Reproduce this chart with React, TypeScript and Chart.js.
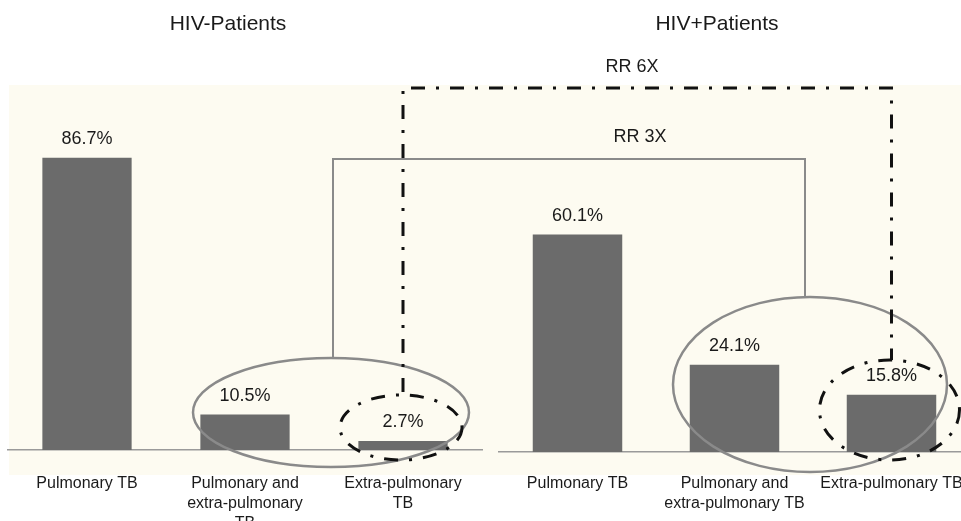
import React, { useEffect, useRef } from "react";
import { Chart, registerables } from "chart.js";

Chart.register(...registerables);

// ---- data ----
const groupTitles = ["HIV-Patients", "HIV+Patients"];
const hivNegCategories: (string | string[])[] = [
  "Pulmonary TB",
  ["Pulmonary and", "extra-pulmonary", "TB"],
  ["Extra-pulmonary", "TB"],
];
const hivNegValues = [86.7, 10.5, 2.7];
const hivPosCategories: (string | string[])[] = [
  "Pulmonary TB",
  ["Pulmonary and", "extra-pulmonary TB"],
  "Extra-pulmonary TB",
];
const hivPosValues = [60.1, 24.1, 15.8];
const rrLabels = ["RR 3X", "RR 6X"];
const yMax = 100;

// ---- style ----
const W = 990;
const H = 521;
const FONT = '"Liberation Sans", Arial, Helvetica, sans-serif';
const BAR = "#6b6b6b";
const CREAM = "#fdfbf1";
const TEXT = "#1a1a1a";

const valueLabelPlugin = {
  id: "valueLabels",
  afterDatasetsDraw(chart: any) {
    const ctx = chart.ctx;
    const meta = chart.getDatasetMeta(0);
    const data = chart.data.datasets[0].data;
    ctx.save();
    ctx.font = `18px ${FONT}`;
    ctx.fillStyle = TEXT;
    ctx.textAlign = "center";
    ctx.textBaseline = "middle";
    meta.data.forEach((bar: any, i: number) => {
      ctx.fillText(`${data[i]}%`, bar.x, bar.y - 18.5);
    });
    ctx.restore();
  },
};

const backgroundPlugin = {
  id: "creamBg",
  beforeDraw(chart: any) {
    const ctx = chart.ctx;
    ctx.save();
    ctx.fillStyle = CREAM;
    ctx.fillRect(9, 85, W - 9, 390);
    ctx.restore();
  },
};

function makeOverlay(getLeft: () => any) {
  return {
    id: "overlay",
    afterDraw(chart: any) {
      const left = getLeft();
      if (!left) return;
      const lx = (i: number) => left.scales.x.getPixelForValue(i);
      const rx = (i: number) => chart.scales.x.getPixelForValue(i);
      const ctx = chart.ctx;
      ctx.save();

      // titles
      ctx.fillStyle = TEXT;
      ctx.textAlign = "center";
      ctx.textBaseline = "middle";
      ctx.font = `21px ${FONT}`;
      ctx.fillText(groupTitles[0], 228, 24);
      ctx.fillText(groupTitles[1], 717, 24);
      ctx.font = `18px ${FONT}`;
      ctx.fillText(rrLabels[1], 632, 67);
      ctx.fillText(rrLabels[0], 640, 137);

      // gray ellipses + RR 3X connector
      const lEx = (lx(1) + lx(2)) / 2 + 7;
      const rEx = (rx(1) + rx(2)) / 2 - 3;
      ctx.strokeStyle = "#8a8a8a";
      ctx.lineWidth = 2.5;
      ctx.setLineDash([]);
      ctx.beginPath();
      ctx.ellipse(lEx, 412.5, 138, 54.5, 0, 0, Math.PI * 2);
      ctx.stroke();
      ctx.beginPath();
      ctx.ellipse(rEx, 384.5, 137, 87.5, 0, 0, Math.PI * 2);
      ctx.stroke();
      ctx.lineWidth = 2;
      ctx.beginPath();
      ctx.moveTo(lEx + 2, 358);
      ctx.lineTo(lEx + 2, 159);
      ctx.lineTo(rEx - 5, 159);
      ctx.lineTo(rEx - 5, 297);
      ctx.stroke();

      // black dash-dot ellipses + RR 6X connector
      ctx.strokeStyle = "#111";
      ctx.lineWidth = 3;
      ctx.setLineDash([14, 11, 3, 11]);
      ctx.beginPath();
      ctx.ellipse(lx(2) - 2, 427.5, 61, 32.5, 0, 0, Math.PI * 2);
      ctx.stroke();
      ctx.beginPath();
      ctx.ellipse(rx(2) - 2, 410, 70, 50, 0, 0, Math.PI * 2);
      ctx.stroke();
      ctx.beginPath();
      ctx.moveTo(lx(2), 392);
      ctx.lineTo(lx(2), 88);
      ctx.lineTo(rx(2), 88);
      ctx.lineTo(rx(2), 360);
      ctx.stroke();

      ctx.restore();
    },
  };
}

function makeOptions(
  pad: { left: number; right: number; top: number },
  axisHeight: number,
  tickPad: number
): any {
  return {
    responsive: false,
    animation: false,
    devicePixelRatio: 1,
    layout: { padding: { left: pad.left, right: pad.right, top: pad.top, bottom: 0 } },
    plugins: {
      legend: { display: false },
      tooltip: { enabled: false },
      title: { display: false },
    },
    scales: {
      x: {
        grid: { display: false, drawTicks: false },
        border: { display: true, color: "#9a9a9a", width: 1.5 },
        ticks: {
          color: TEXT,
          font: { family: FONT, size: 16, lineHeight: 1.25 },
          padding: tickPad,
          maxRotation: 0,
          minRotation: 0,
          autoSkip: false,
        },
        afterFit: (scale: any) => {
          scale.height = axisHeight;
        },
      },
      y: { display: false, min: 0, max: yMax },
    },
  };
}

export default function App() {
  const leftRef = useRef<HTMLCanvasElement>(null);
  const rightRef = useRef<HTMLCanvasElement>(null);

  useEffect(() => {
    if (!leftRef.current || !rightRef.current) return;
    const left = new Chart(leftRef.current, {
      type: "bar",
      data: {
        labels: hivNegCategories as any,
        datasets: [
          {
            data: hivNegValues,
            backgroundColor: BAR,
            borderWidth: 0,
            categoryPercentage: 1,
            barPercentage: 0.565,
          },
        ],
      },
      options: makeOptions({ left: 8, right: W - 482, top: 113 }, H - 450, 24),
      plugins: [backgroundPlugin, valueLabelPlugin],
    });
    let leftChart: any = left;
    const right = new Chart(rightRef.current, {
      type: "bar",
      data: {
        labels: hivPosCategories as any,
        datasets: [
          {
            data: hivPosValues,
            backgroundColor: BAR,
            borderWidth: 0,
            categoryPercentage: 1,
            barPercentage: 0.57,
          },
        ],
      },
      options: makeOptions({ left: 499, right: W - 970, top: 90 }, H - 452, 22),
      plugins: [valueLabelPlugin, makeOverlay(() => leftChart)],
    });
    return () => {
      leftChart = null;
      right.destroy();
      left.destroy();
    };
  }, []);

  const canvasStyle: React.CSSProperties = {
    position: "absolute",
    left: 0,
    top: 0,
    width: W,
    height: H,
  };

  return (
    <div
      style={{
        position: "fixed",
        left: 0,
        top: 0,
        width: 961,
        height: 521,
        overflow: "hidden",
        background: "#ffffff",
      }}
    >
      <canvas ref={leftRef} width={W} height={H} style={canvasStyle} />
      <canvas ref={rightRef} width={W} height={H} style={canvasStyle} />
    </div>
  );
}
